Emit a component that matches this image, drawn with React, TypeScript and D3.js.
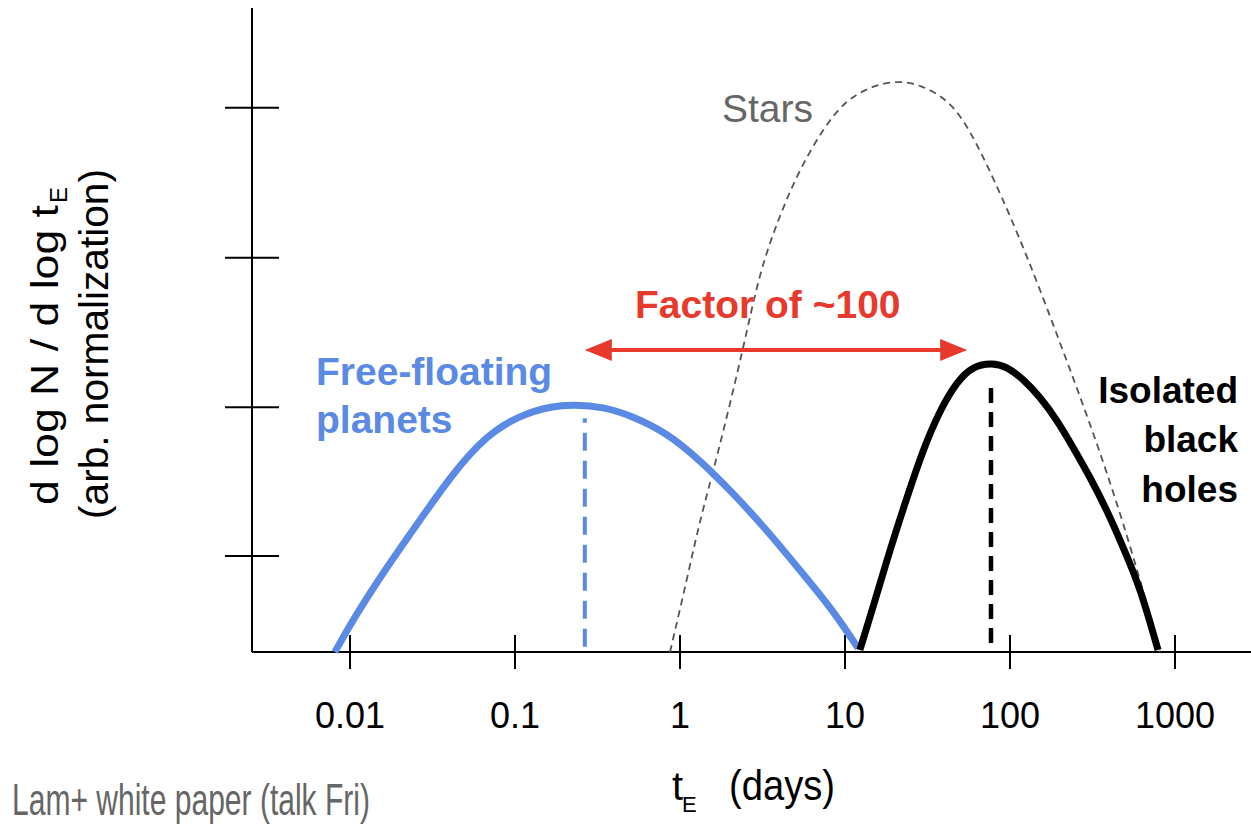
import React from "react";
import * as d3 from "d3";

// ---- data (t in days, v = arbitrary normalization 0..1 of plot height) ----
const xTickValues = [0.01, 0.1, 1, 10, 100, 1000];
const xTickLabels = ["0.01", "0.1", "1", "10", "100", "1000"];
const yTickValues = [0.149, 0.38, 0.612, 0.845];

const planetsT = [0.0081, 0.0104, 0.0167, 0.0266, 0.0421, 0.0676, 0.107, 0.170, 0.225, 0.341, 0.519, 0.834, 1.32, 2.09, 3.37, 5.33, 8.45, 12.0];
const planetsV = [0.0, 0.05, 0.132, 0.205, 0.278, 0.337, 0.368, 0.382, 0.384, 0.381, 0.366, 0.34, 0.298, 0.247, 0.189, 0.127, 0.065, 0.006];

const bhT = [12.3, 14.8, 18.7, 23.8, 29.7, 37.7, 47.7, 59.7, 77.8, 95.9, 120, 152, 193, 241, 305, 387, 484, 614, 789];
const bhV = [0.003, 0.07, 0.158, 0.241, 0.314, 0.376, 0.42, 0.444, 0.449, 0.443, 0.424, 0.396, 0.36, 0.318, 0.272, 0.22, 0.163, 0.101, 0.003];

const starsT = [0.87, 1.1, 1.32, 1.68, 2.41, 3.05, 4.04, 5.34, 8.46, 12.3, 19.5, 28.5, 43.3, 57.2, 78.9, 127, 201, 305, 484, 778, 811];
const starsV = [0.0, 0.112, 0.205, 0.303, 0.469, 0.593, 0.679, 0.752, 0.838, 0.872, 0.888, 0.882, 0.856, 0.81, 0.738, 0.616, 0.48, 0.356, 0.205, 0.019, 0.0];

const planetsMedianT = 0.265;
const planetsMedianV = [0.008, 0.363];
const bhMedianT = 76.7;
const bhMedianV = [0.014, 0.418];

const arrowT = [0.265, 55];
const arrowV = 0.469;

const W = 1251;
const H = 826;
const FONT = "'Liberation Sans', Arial, Helvetica, sans-serif";
const BLUE = "#5a8ae3";
const RED = "#e83a2c";

export default function App() {
  const x = d3.scaleLog().domain([0.01, 1000]).range([350, 1175]);
  const y = d3.scaleLinear().domain([0, 1]).range([652, 8]);
  const axisX0 = 252;
  const axisY0 = y(0);

  const line = d3
    .line<[number, number]>()
    .x((d) => x(d[0]))
    .y((d) => y(d[1]))
    .curve(d3.curveBasis);

  const planets = planetsT.map((t, i) => [t, planetsV[i]] as [number, number]);
  const bh = bhT.map((t, i) => [t, bhV[i]] as [number, number]);
  const stars = starsT.map((t, i) => [t, starsV[i]] as [number, number]);

  const ax1 = x(arrowT[0]);
  const ax2 = x(arrowT[1]);
  const ay = y(arrowV);
  const headL = 27;
  const headW = 11;

  return (
    <svg
      width={W}
      height={H}
      style={{ position: "absolute", left: 0, top: 0, background: "#fff" }}
      fontFamily={FONT}
    >
      {/* axes */}
      <line x1={axisX0} x2={axisX0} y1={y(1)} y2={axisY0} stroke="#000" strokeWidth={2} />
      <line x1={axisX0} x2={W} y1={axisY0} y2={axisY0} stroke="#000" strokeWidth={2} />
      {xTickValues.map((t, i) => (
        <g key={"xt" + i}>
          <line x1={x(t)} x2={x(t)} y1={axisY0 - 17} y2={axisY0 + 17} stroke="#000" strokeWidth={2} />
          <text x={x(t)} y={728} textAnchor="middle" fontSize={36} fill="#000">
            {xTickLabels[i]}
          </text>
        </g>
      ))}
      {yTickValues.map((v, i) => (
        <line key={"yt" + i} x1={axisX0 - 27} x2={axisX0 + 27} y1={y(v)} y2={y(v)} stroke="#000" strokeWidth={2} />
      ))}

      {/* stars */}
      <path d={line(stars) || ""} fill="none" stroke="#555" strokeWidth={1.8} strokeDasharray="7 5" />

      {/* planets */}
      <path d={line(planets) || ""} fill="none" stroke={BLUE} strokeWidth={7} />
      <line
        x1={x(planetsMedianT)}
        x2={x(planetsMedianT)}
        y1={y(planetsMedianV[0])}
        y2={y(planetsMedianV[1])}
        stroke={BLUE}
        strokeWidth={4}
        strokeDasharray="18 10"
      />

      {/* black holes */}
      <path d={line(bh) || ""} fill="none" stroke="#000" strokeWidth={7} />
      <line
        x1={x(bhMedianT)}
        x2={x(bhMedianT)}
        y1={y(bhMedianV[0])}
        y2={y(bhMedianV[1])}
        stroke="#000"
        strokeWidth={4.5}
        strokeDasharray="15 9"
      />

      {/* arrow */}
      <line x1={ax1 + headL - 2} x2={ax2 - headL + 2} y1={ay} y2={ay} stroke={RED} strokeWidth={4} />
      <path d={`M${ax1},${ay} L${ax1 + headL},${ay - headW} L${ax1 + headL},${ay + headW} Z`} fill={RED} />
      <path d={`M${ax2},${ay} L${ax2 - headL},${ay - headW} L${ax2 - headL},${ay + headW} Z`} fill={RED} />

      {/* annotations */}
      <text x={635} y={318} fontSize={39} fontWeight="bold" fill={RED}>
        Factor of ~100
      </text>
      <text x={722} y={122} fontSize={39} fill="#666">
        Stars
      </text>
      <text x={316} y={385} fontSize={39} fontWeight="bold" fill={BLUE}>
        <tspan x={316}>Free-floating</tspan>
        <tspan x={316} dy={48}>planets</tspan>
      </text>
      <text x={1238} y={403} fontSize={37} fontWeight="bold" fill="#000" textAnchor="end">
        <tspan x={1238}>Isolated</tspan>
        <tspan x={1238} dy={49}>black</tspan>
        <tspan x={1238} dy={50}>holes</tspan>
      </text>

      {/* y axis label */}
      <g transform="translate(58,505) rotate(-90)">
        <text x={0} y={0} fontSize={39} fill="#000" textLength={300} lengthAdjust="spacingAndGlyphs">
          d log N / d log t
        </text>
        <text x={302} y={9} fontSize={24} fill="#000">
          E
        </text>
      </g>
      <g transform="translate(108,344) rotate(-90)">
        <text textAnchor="middle" fontSize={40} fill="#000" textLength={350} lengthAdjust="spacingAndGlyphs">
          (arb. normalization)
        </text>
      </g>

      {/* x axis label */}
      <text x={672} y={800} fontSize={40} fill="#000">
        t
      </text>
      <text x={682} y={812} fontSize={22} fill="#000">
        E
      </text>
      <text x={729} y={800} fontSize={42} fill="#000" textLength={106} lengthAdjust="spacingAndGlyphs">
        (days)
      </text>

      {/* footnote */}
      <text x={12} y={815} fontSize={44} fill="#666" textLength={358} lengthAdjust="spacingAndGlyphs">
        Lam+ white paper (talk Fri)
      </text>
    </svg>
  );
}
